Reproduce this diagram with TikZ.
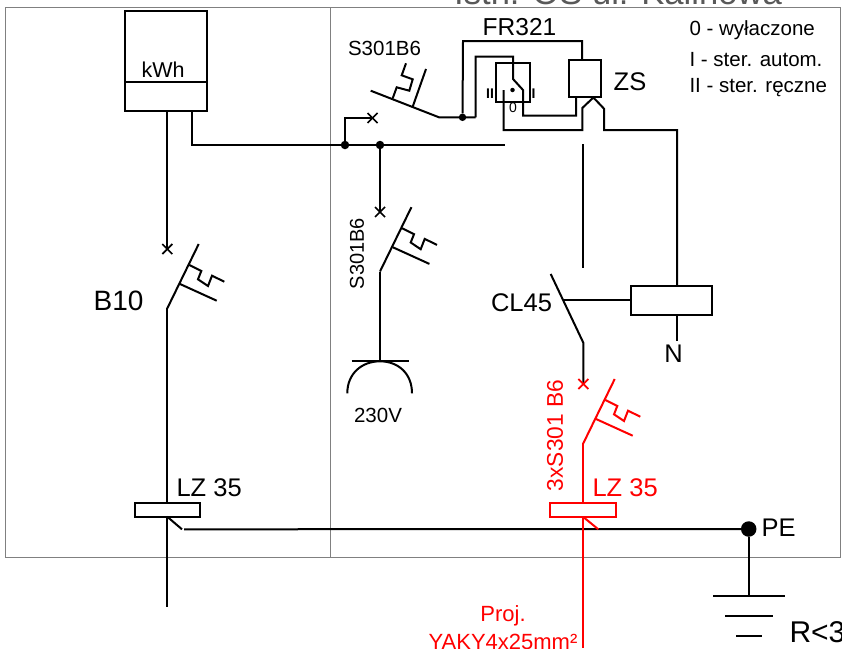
\documentclass[tikz,border=0pt]{standalone}
\usepackage{fontspec}
\setmainfont{Liberation Sans}
\usepackage{tikz}
\tikzset{
    wire/.style={line width=2pt},
    frameline/.style={line width=0.8pt,color=black!50},
    box/.style={draw,line width=2pt,fill=white,inner sep=0pt,outer sep=0pt},
    dot/.style={circle,fill,inner sep=0pt,minimum size=8.5pt},
    big/.style={font=\fontsize{25.5}{28}\selectfont},
    small/.style={font=\fontsize{20.5}{24}\selectfont},
    breaker/.pic={
        \draw[wire] (0,0) -- (31.4,-64.3);
        \draw[wire] (22,-43.3) -- (34,-37.3) -- (30.7,-29) -- (40.7,-22.3) -- (44.7,-32.6) -- (57,-26.6);
        \draw[wire] (12.7,-24.3) -- (49.4,-7.6);
    },
    xmark/.pic={
        \draw[line width=1.7pt] (-5,-5) -- (5,5);
        \draw[line width=1.7pt] (-5,5) -- (5,-5);
    }
}
\begin{document}
\begin{tikzpicture}[x=1pt,y=-1pt]
    \useasboundingbox (0,0) rectangle (842,648);
    \fill[white] (0,0) rectangle (842,648);

    \node[font=\fontsize{34.6}{38}\selectfont,color=black!65,anchor=base] (title) at (618,4.5) {Istn. OS ul. Kalinowa};
    \draw[frameline] (5,7.5) rectangle (840,557);
    \draw[frameline] (330,7.5) -- (330,557);

    % licznik
    \node[box,minimum width=82pt,minimum height=100pt] (meter) at (166,61) {};
    \draw[wire] (125,82) -- (207,82);
    \node[font=\fontsize{21.5}{24}\selectfont] (kwh) at (163,70) {kWh};

    % szyna
    \coordinate (busL) at (192,145);
    \coordinate (busR) at (505,145);
    \node[dot] (j1) at (345,145) {};
    \node[dot] (j2) at (380,145) {};
    \draw[wire] (meter.south -| busL) -- (busL) -- (busR);

    % B10
    \coordinate (xB) at (167.3,249);
    \draw[wire] (meter.south -| xB) -- (xB);
    \pic (markB) at (xB) {xmark};
    \pic (brkB) at (167.3,308.3) {breaker};
    \node[font=\fontsize{28}{30}\selectfont] (labB) at (118.5,301) {B10};
    \draw[wire] (167.3,308.3) -- (167.3,606.5);
    \node[box,minimum width=65pt,minimum height=13.5pt] (lzB) at (167,510) {};
    \draw[wire] (lzB.south -| 167.3,0) -- (182,529.3);
    \node[big,anchor=west] (labLzB) at (173,488) {LZ 35};

    % S301B6 gniazdo
    \coordinate (xS) at (380,212);
    \coordinate (sock) at (380,361.3);
    \draw[wire] (j2) -- (xS);
    \pic (markS) at (xS) {xmark};
    \pic (brkS) at (380,271.5) {breaker};
    \draw[wire] (380,271.5) -- (sock);
    \draw[wire] (351.5,361.3) -- (409,361.3);
    \draw[wire] (347.3,393.3) .. controls +(0,-20) and +(-18,0) .. (sock) .. controls +(18,0) and +(0,-20) .. (412,393.3);
    \node[font=\fontsize{20.5}{24}\selectfont] (lab230) at (378,415) {230V};
    \node[font=\fontsize{20}{24}\selectfont,rotate=90] (labS) at (357,253.5) {S301B6};

    % S301B6 sterowanie
    \coordinate (xT) at (372.5,118);
    \coordinate (outT) at (439,117.3);
    \draw[wire] (j1) -- (345,118) -- (xT);
    \pic (markT) at (xT) {xmark};
    \draw[wire] (370.7,90.7) -- (outT) -- (475.5,117.3);
    \draw[wire] (392.7,98.3) -- (396.7,87.3) -- (409.3,90.7) -- (412.7,79.3) -- (401.7,75.3) -- (406,63.3);
    \draw[wire] (412.7,106.7) -- (426,69);
    \node[font=\fontsize{20.5}{24}\selectfont] (labT) at (384.5,48) {S301B6};
    \node[dot,minimum size=7.5pt] (j3) at (462.5,117.3) {};

    % FR321
    \node[box,fill=none,minimum width=34pt,minimum height=39pt] (fr) at (513,82.5) {};
    \node[box,fill=none,minimum width=32pt,minimum height=37pt] (zs) at (585,78.5) {};
    \draw[wire] (j3) -- (463,41) -- (582,41) -- (zs.north -| 582,0);
    \draw[wire] (475.5,117.3) -- (475.5,56.5) -- (513,56.5) -- (513,79) -- (523,90) -- (523,115.7) -- (576,115.7) -- (zs.south -| 576,0);
    \draw[wire] (503.7,90) -- (503.7,130) -- (582.3,130) -- (582.3,108) -- (593.4,97.5) -- (604,108.7) -- (604,130) -- (677,130) -- (677,286);
    \node[circle,fill,inner sep=0pt,minimum size=4.5pt] (frDot) at (512.5,90) {};
    \node[font=\fontsize{14}{15}\selectfont] (pos0) at (513,107.5) {0};
    \node[font=\bfseries\fontsize{14}{15}\selectfont] (pos1) at (533.5,94) {I};
    \node[font=\bfseries\fontsize{14}{15}\selectfont] (pos2) at (490,94) {II};
    \node[font=\fontsize{24.5}{28}\selectfont] (labFr) at (519.5,27) {FR321};
    \node[big] (labZs) at (630,82) {ZS};

    % legenda
    \node[small,anchor=west] (leg0) at (686,30) {0 - wyłaczone};
    \node[small,anchor=west] (leg1) at (686,60) {I - ster. autom.};
    \node[small,anchor=west] (leg2) at (686,87.5) {II - ster. ręczne};

    % CL45
    \coordinate (clTop) at (583.3,144);
    \coordinate (clEnd) at (583.3,268);
    \draw[wire] (clTop) -- (clEnd);
    \node[box,minimum width=81.5pt,minimum height=28.5pt] (relay) at (671.5,300.3) {};
    \draw[wire] (550.7,274) -- (583.3,342.7) -- (583.3,384);
    \draw[wire] (564,300.3) -- (relay.west);
    \draw[wire] (677,314.5) -- (677,341);
    \node[big] (labN) at (673.5,354) {N};
    \node[big] (labCl) at (521.5,303) {CL45};

    % PE
    \node[circle,fill,inner sep=0pt,minimum size=15.5pt] (pe) at (748.7,529) {};
    \coordinate (gnd) at (748.7,596);
    \draw[wire] (184,529.3) -- (pe);
    \draw[wire] (pe) -- (gnd);
    \draw[wire] (713.3,596) -- (785.3,596);
    \draw[wire] (725,616) -- (773.3,616);
    \draw[wire] (736,635.7) -- (762,635.7);
    \node[big,anchor=west] (labPe) at (758,528) {PE};
    \node[font=\fontsize{30}{32}\selectfont,anchor=base west] (labR) at (786,642) {R<3};

    % projektowane
    \begin{scope}[color=red]
        \pic (markR) at (583.3,384) {xmark};
        \pic (brkR) at (583.3,443.3) {breaker};
        \draw[wire] (583.3,443.3) -- (583.3,648);
        \node[box,minimum width=66pt,minimum height=14pt] (lzR) at (583,510) {};
        \draw[wire] (lzR.south -| 583.3,0) -- (598.3,529.3);
        \node[big,anchor=west] (labLzR) at (589,488) {LZ 35};
        \node[font=\fontsize{22.7}{26}\selectfont,rotate=90] (labRb) at (555,435.5) {3xS301 B6};
        \node[font=\fontsize{22}{26}\selectfont] (labP1) at (503,616) {Proj.};
        \node[font=\fontsize{22}{26}\selectfont] (labP2) at (503,642) {YAKY4x25mm²};
    \end{scope}
\end{tikzpicture}
\end{document}
